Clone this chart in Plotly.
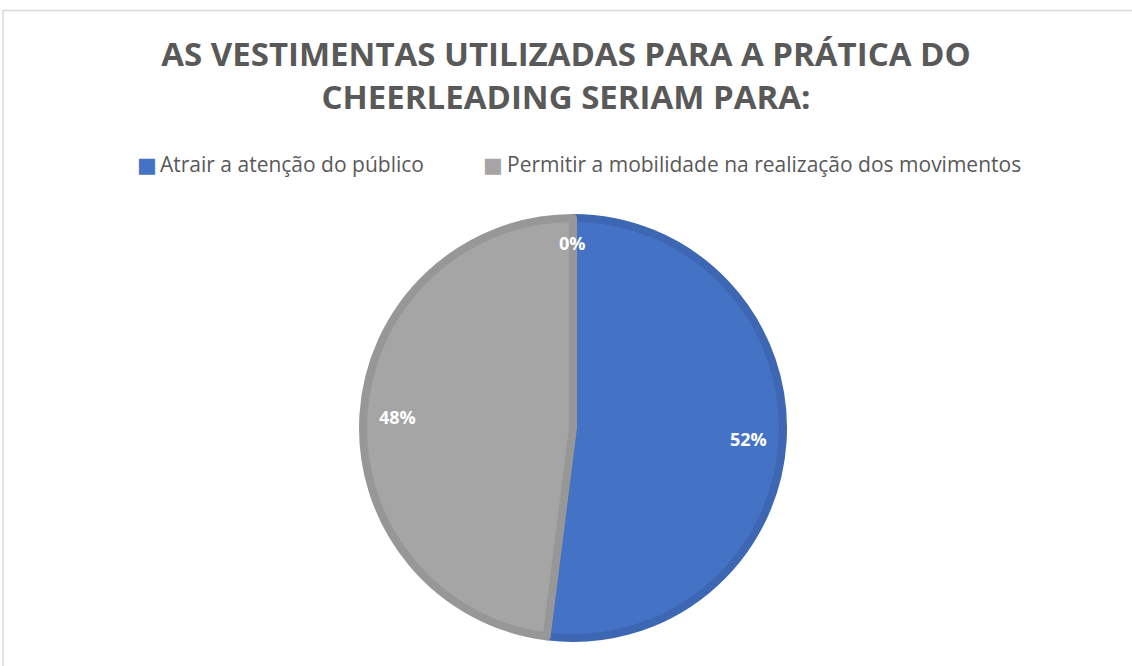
import math
import plotly.graph_objects as go

title_text = "<b>AS VESTIMENTAS UTILIZADAS PARA A PRÁTICA DO<br>CHEERLEADING SERIAM PARA:</b>"
categories = ["Atrair a atenção do público",
              "Permitir a mobilidade na realização dos movimentos"]
values = [52, 48]
extra_label = "0%"   # third (empty) category shown by Excel as 0%
colors = ["#4472C4", "#A5A5A5"]
border_colors = ["#3D66B3", "#979797"]

W, H = 1132, 666
cx, cy, R = 573, 428, 214
FONT = "Open Sans"

fig = go.Figure()
fig.add_trace(go.Pie(
    labels=categories,
    values=values,
    sort=False,
    direction="clockwise",
    rotation=0,
    marker=dict(colors=colors, line=dict(color=border_colors, width=8)),
    textinfo="none",
    domain=dict(x=[(cx - R + 4) / W, (cx + R - 4) / W], y=[1 - (cy + R - 4) / H, 1 - (cy - R + 4) / H]),
    hoverinfo="label+percent",
    showlegend=False,
))

annotations = []
# data labels placed near the outer edge (Excel "best fit")
total = sum(values)
cum = 0
lab_r = 0.82 * R
for v in values:
    mid = (cum + v / 2) / total * 2 * math.pi
    cum += v
    x = cx + lab_r * math.sin(mid)
    y = cy - lab_r * math.cos(mid)
    annotations.append(dict(x=x / W, y=1 - y / H, xref="paper", yref="paper",
                            text="<b>%d%%</b>" % round(v / total * 100), showarrow=False,
                            font=dict(family=FONT, size=18, color="white")))
annotations.append(dict(x=572 / W, y=1 - 243 / H, xref="paper", yref="paper",
                        text="<b>%s</b>" % extra_label, showarrow=False,
                        font=dict(family=FONT, size=18, color="white")))

# legend built as text
legend_marker_x = [146.5, 492.5]
legend_text_x = [158, 505]
for name, col, mx, tx in zip(categories, colors, legend_marker_x, legend_text_x):
    annotations.append(dict(x=mx / W, y=1 - 165 / H, xref="paper", yref="paper", xanchor="center",
                            yanchor="middle", showarrow=False, text="■",
                            font=dict(family="DejaVu Sans", size=21, color=col)))
    annotations.append(dict(x=tx / W, y=1 - 164 / H, xref="paper", yref="paper", xanchor="left",
                            yanchor="middle", showarrow=False, text=name,
                            font=dict(family=FONT, size=21, color="#595959")))

fig.update_layout(
    width=W, height=H,
    margin=dict(l=0, r=0, t=0, b=0),
    paper_bgcolor="white",
    plot_bgcolor="white",
    title=dict(text=title_text, x=0.5, xanchor="center", y=1 - 66 / H, yanchor="top",
               font=dict(family=FONT, size=33, color="#595959")),
    showlegend=False,
    annotations=annotations,
    shapes=[dict(type="rect", xref="paper", yref="paper", x0=3 / W, x1=1.01, y0=-0.01, y1=1 - 10.5 / H,
                 line=dict(color="#D9D9D9", width=1.5))],
)

fig.write_html("out.html")
